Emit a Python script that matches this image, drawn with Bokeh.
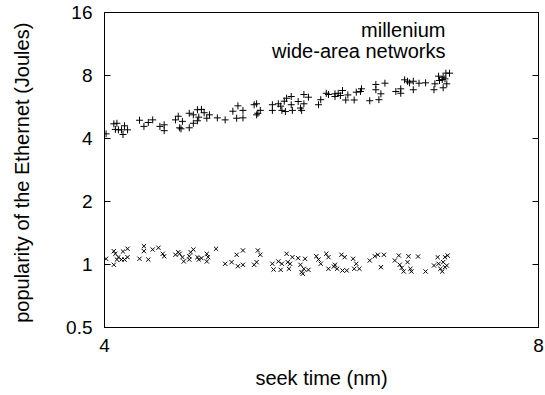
from bokeh.plotting import figure
from bokeh.models import Range1d, FixedTicker, LogAxis, Label
from bokeh.embed import file_html
from bokeh.resources import INLINE

# ---- data ----
series_names = ["millenium", "wide-area networks"]

mill_x = [4.01, 4.06, 4.08, 4.07, 4.09, 4.11, 4.12, 4.13, 4.15, 4.23, 4.26, 4.29, 4.32,
          4.37, 4.40, 4.40, 4.48, 4.50, 4.51, 4.53, 4.52, 4.58, 4.58, 4.61, 4.61, 4.64,
          4.64, 4.67, 4.65, 4.69, 4.71, 4.73, 4.79, 4.85, 4.91, 4.95, 4.99, 4.94, 4.99,
          5.08, 5.10, 5.13, 5.11, 5.10, 5.23, 5.23, 5.28, 5.30, 5.31, 5.33, 5.35, 5.39,
          5.39, 5.40, 5.34, 5.45, 5.47, 5.48, 5.50, 5.50, 5.54, 5.63, 5.65, 5.70, 5.72,
          5.78, 5.78, 5.81, 5.85, 5.83, 5.88, 5.90, 5.96, 5.98, 6.03, 6.02, 6.11, 6.17,
          6.17, 6.20, 6.22, 6.26, 6.37, 6.42, 6.42, 6.46, 6.49, 6.51, 6.55, 6.55, 6.61,
          6.68, 6.77, 6.78, 6.82, 6.83, 6.86, 6.87, 6.89, 6.87, 6.90, 6.94, 6.91]
mill_y = [4.21, 4.70, 4.73, 4.42, 4.40, 4.40, 4.18, 4.60, 4.40, 4.89, 4.57, 4.77, 4.91,
          4.57, 4.65, 4.36, 4.91, 5.11, 4.50, 4.83, 4.45, 4.50, 5.28, 5.19, 4.73, 4.86,
          5.49, 5.51, 5.06, 5.31, 5.00, 5.19, 5.02, 4.91, 5.40, 5.73, 5.45, 5.00, 5.02,
          5.80, 5.86, 5.45, 5.28, 5.19, 5.80, 5.45, 5.86, 5.71, 5.45, 6.03, 6.23, 5.80,
          6.35, 5.45, 5.38, 6.01, 5.59, 5.45, 5.86, 6.49, 6.30, 5.80, 6.13, 6.58, 6.49,
          6.54, 6.35, 6.58, 6.78, 6.42, 6.11, 6.46, 6.11, 6.66, 6.91, 6.71, 6.06, 7.25,
          6.84, 6.13, 6.54, 7.35, 6.71, 6.91, 6.58, 7.63, 7.51, 7.38, 7.51, 6.84, 7.35,
          7.38, 6.84, 7.30, 7.94, 7.57, 7.66, 7.85, 7.71, 6.99, 8.21, 8.21, 7.30]

wan_x = [4.01, 4.06, 4.07, 4.06, 4.08, 4.09, 4.11, 4.12, 4.13, 4.15, 4.15, 4.23, 4.26,
         4.26, 4.29, 4.32, 4.36, 4.39, 4.40, 4.48, 4.50, 4.51, 4.53, 4.54, 4.58, 4.59,
         4.61, 4.58, 4.64, 4.65, 4.67, 4.71, 4.72, 4.71, 4.78, 4.85, 4.90, 4.94, 4.95,
         4.99, 4.99, 5.08, 5.10, 5.11, 5.13, 5.23, 5.24, 5.28, 5.30, 5.31, 5.35, 5.36,
         5.37, 5.38, 5.40, 5.45, 5.47, 5.48, 5.49, 5.51, 5.50, 5.54, 5.61, 5.63, 5.65,
         5.70, 5.72, 5.72, 5.77, 5.78, 5.80, 5.84, 5.87, 5.85, 5.89, 5.95, 5.98, 5.96,
         6.01, 6.11, 6.16, 6.19, 6.25, 6.22, 6.36, 6.40, 6.41, 6.43, 6.45, 6.50, 6.49,
         6.52, 6.53, 6.60, 6.68, 6.77, 6.81, 6.82, 6.84, 6.86, 6.87, 6.89, 6.92, 6.89,
         6.91]
wan_y = [1.065, 1.158, 1.125, 0.997, 1.056, 1.084, 1.056, 1.154, 1.056, 1.189, 1.084,
         1.065, 1.223, 1.158, 1.056, 1.179, 1.202, 1.125, 1.095, 1.113, 1.145, 1.125,
         1.084, 1.034, 1.095, 1.145, 1.179, 1.056, 1.084, 1.056, 1.072, 1.125, 1.084,
         1.034, 1.189, 1.008, 1.026, 1.113, 0.981, 1.167, 0.997, 0.997, 1.026, 1.167,
         1.113, 1.008, 0.946, 1.034, 0.943, 1.008, 1.125, 1.026, 0.954, 1.008, 1.084,
         1.072, 0.997, 0.919, 0.903, 1.065, 0.954, 0.943, 1.095, 1.056, 1.008, 1.125,
         1.084, 0.954, 0.978, 0.997, 0.954, 1.113, 1.084, 0.936, 0.936, 1.065, 1.008,
         0.954, 0.954, 1.045, 1.095, 1.113, 1.113, 0.971, 1.045, 1.104, 0.997, 0.964,
         0.926, 1.095, 1.026, 0.954, 0.926, 1.092, 0.926, 0.989, 1.084, 1.008, 0.954,
         0.926, 1.026, 1.084, 1.104, 0.971, 0.989]

x_ticks = [4, 8]
y_ticks = [0.5, 1, 2, 4, 8, 16]
x_tick_labels = {4: "4", 8: "8"}
y_tick_labels = {0.5: "0.5", 1: "1", 2: "2", 4: "4", 8: "8", 16: "16"}
x_title = "seek time (nm)"
y_title = "popularity of the Ethernet  (Joules)"

FONT = "Liberation Sans"
FS = "19px"
TFS = "20px"

p = figure(width=545, height=395, x_axis_type="log", y_axis_type="log",
           x_range=Range1d(4, 8), y_range=Range1d(0.5, 16),
           output_backend="svg", toolbar_location=None,
           min_border_left=104, min_border_right=7,
           min_border_top=12, min_border_bottom=68)
p.grid.visible = False
p.outline_line_color = "black"
p.outline_line_width = 1
p.background_fill_color = "white"
p.border_fill_color = "white"

p.scatter(mill_x, mill_y, marker="cross", size=7, line_color="black", line_width=1)
p.scatter(wan_x, wan_y, marker="x", size=6, line_color="black", line_width=1)

def style(ax, ticks, labels, show):
    ax.ticker = FixedTicker(ticks=ticks)
    ax.minor_tick_line_color = None
    ax.major_tick_in = 6
    ax.major_tick_out = 0
    ax.axis_line_color = "black"
    ax.major_tick_line_color = "black"
    ax.major_label_text_font = FONT
    ax.axis_label_text_font = FONT
    ax.axis_label_text_font_style = "normal"
    ax.axis_label_text_color = "black"
    ax.axis_label_text_font_size = TFS
    ax.major_label_text_font_size = FS
    if show:
        ax.major_label_overrides = labels
        ax.major_label_text_color = "black"
    else:
        ax.major_label_overrides = {t: "" for t in ticks}
        ax.major_label_text_color = None
        ax.major_label_standoff = 0

xa = p.xaxis[0]
ya = p.yaxis[0]
style(xa, x_ticks, x_tick_labels, True)
style(ya, y_ticks, y_tick_labels, True)
xa.axis_label = x_title
ya.axis_label = y_title
xa.major_label_standoff = 11
xa.axis_label_standoff = 12
ya.major_label_standoff = 12
ya.axis_label_standoff = 30

ra = LogAxis()
style(ra, y_ticks, {}, False)
p.add_layout(ra, "right")
ta = LogAxis()
style(ta, x_ticks, {}, False)
p.add_layout(ta, "above")

for i, name in enumerate(series_names):
    p.add_layout(Label(x=341, y=298 - 21 * i, x_units="screen", y_units="screen",
                       text=name, text_align="right", text_baseline="middle",
                       text_font=FONT, text_font_size=TFS, text_color="black"))

open("out.html", "w").write(file_html(p, INLINE))
